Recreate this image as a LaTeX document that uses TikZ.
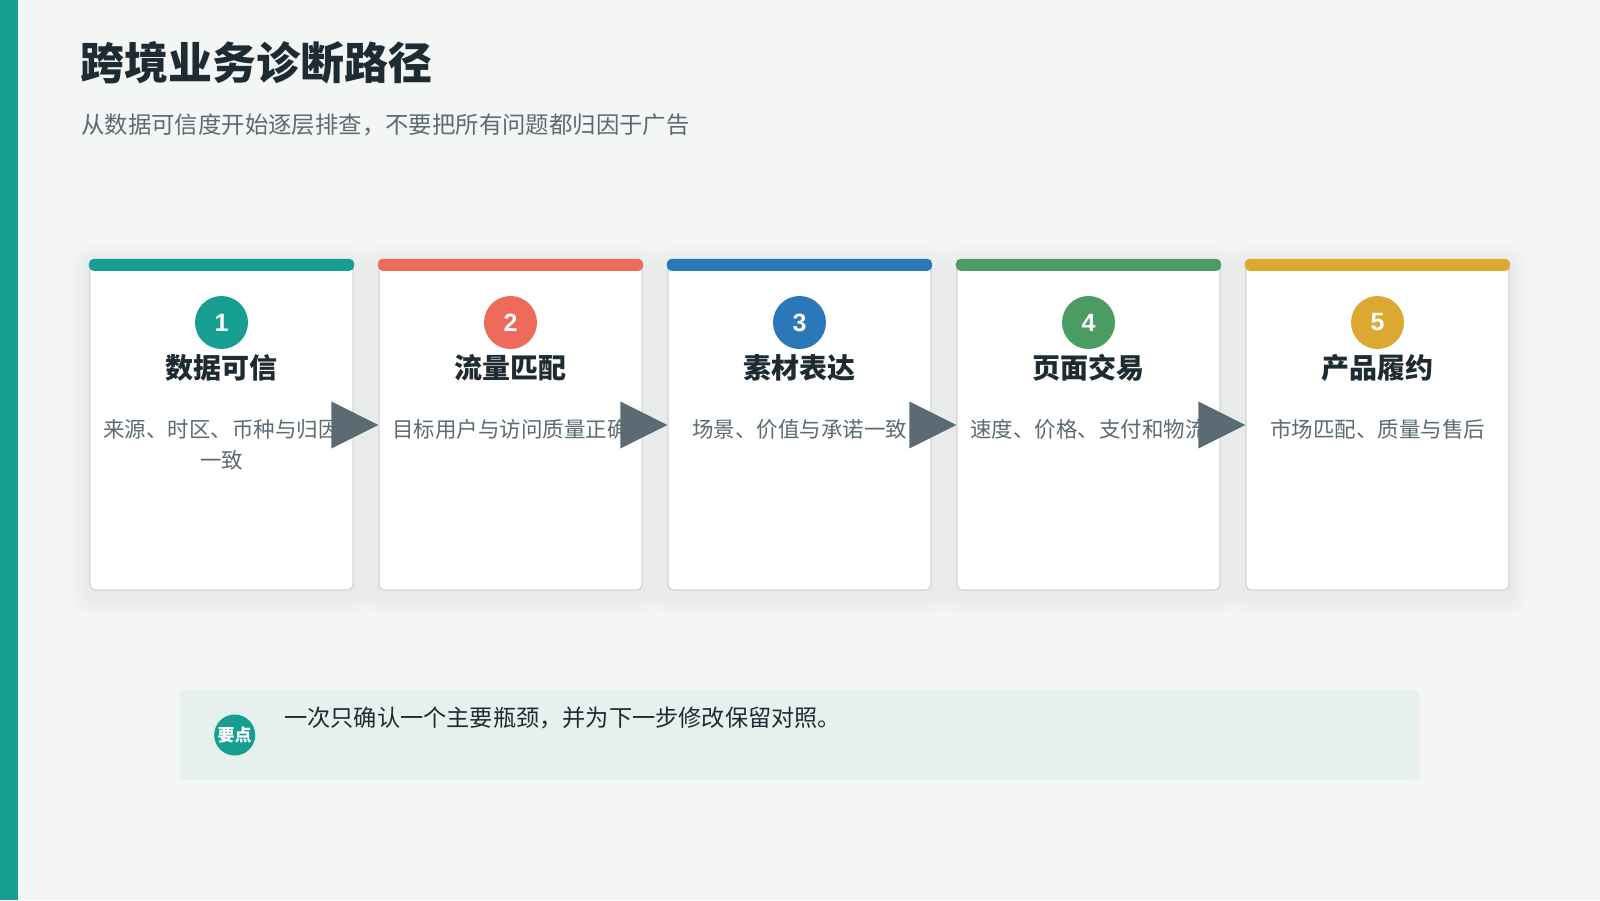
\documentclass[tikz,border=0pt]{standalone}
\usepackage{fontspec}
\setmainfont{Noto Sans CJK SC}
\newfontfamily\numfont{Liberation Sans}
\usetikzlibrary{calc}
\definecolor{bgc}{HTML}{F4F6F6}
\definecolor{tealc}{HTML}{169E90}
\definecolor{redc}{HTML}{EE6A5A}
\definecolor{bluec}{HTML}{2A78B8}
\definecolor{greenc}{HTML}{4A9C62}
\definecolor{yellowc}{HTML}{DCA832}
\definecolor{darkc}{HTML}{1E2B33}
\definecolor{grayc}{HTML}{5C6B73}
\definecolor{borderc}{HTML}{CDD6DA}
\definecolor{arrowc}{HTML}{5B6B73}
\definecolor{tipbg}{HTML}{E6F0ED}
\begin{document}
\begin{tikzpicture}[x=1pt,y=-1pt,
  card/.style={draw=borderc, line width=1.2pt, fill=white, rounded corners=6pt,
    minimum width=263pt, minimum height=330pt, inner sep=0pt},
  softshadow/.style={fill=black, fill opacity=0.0055, rounded corners=#1},
  numcircle/.style={circle, minimum size=53pt, inner sep=0pt, text=white,
    font=\numfont\bfseries\fontsize{25}{25}\selectfont},
  headtext/.style={font=\bfseries\fontsize{28}{30}\selectfont, text=darkc, inner sep=0pt},
  desctext/.style={anchor=north, align=center, font=\fontsize{21.5}{31}\selectfont, text=grayc, inner sep=0pt},
  flowarrow/.style={fill=arrowc}
]
\fill[bgc] (0,0) rectangle (1600,900);
\useasboundingbox (0,0) rectangle (1600,900);
\fill[tealc] (0,0) rectangle (18,900);
\node[anchor=west, inner sep=0pt, text=darkc, font=\bfseries\fontsize{44}{48}\selectfont] (title) at (80,63) {跨境业务诊断路径};
\node[anchor=west, inner sep=0pt, text=grayc, font=\fontsize{23.4}{26}\selectfont] (subtitle) at (81,124.5) {从数据可信度开始逐层排查，不要把所有问题都归因于广告};
\foreach \i/\cx/\col/\head/\desc in {
  1/221.5/tealc/数据可信/{来源、时区、币种与归因\\一致},
  2/510.5/redc/流量匹配/{目标用户与访问质量正确},
  3/799.5/bluec/素材表达/{场景、价值与承诺一致},
  4/1088.5/greenc/页面交易/{速度、价格、支付和物流},
  5/1377.5/yellowc/产品履约/{市场匹配、质量与售后}} {
  \foreach \k in {1,...,12} {
    \fill[softshadow=6pt+\k*1.6pt] (\cx-131.5-\k*1.8, 260+5-\k*1.8) rectangle (\cx+131.5+\k*1.8, 590+5+\k*1.8);
  }
  \node[card] (c\i) at (\cx,425) {};
  \fill[\col, rounded corners=5pt] ($(c\i.north west)+(-0.6,-0.6)$) rectangle ($(c\i.north east)+(0.6,11.5)$);
  \node[numcircle, fill=\col] (n\i) at (\cx,322.5) {\i};
  \node[headtext] (h\i) at (\cx,368) {\head};
  \node[desctext] (d\i) at (\cx,419) {\desc};
}
\foreach \a/\b in {1/2,2/3,3/4,4/5} {
  \fill[flowarrow] ($(c\b.west)+(-47,-23.5)$) -- (c\b.west) -- ($(c\b.west)+(-47,23.5)$) -- cycle;
}
\node[fill=tipbg, rounded corners=6pt, minimum width=1240pt, minimum height=90pt, inner sep=0pt] (tip) at (799.5,734.7) {};
\node[circle, fill=tealc, minimum size=41pt, inner sep=0pt, text=white, font=\bfseries\fontsize{17}{18}\selectfont] (badge) at (234.7,735) {要点};
\node[anchor=west, inner sep=0pt, text=darkc, font=\fontsize{23.2}{24}\selectfont] (tiptext) at (284,718.4) {一次只确认一个主要瓶颈，并为下一步修改保留对照。};
\end{tikzpicture}
\end{document}
